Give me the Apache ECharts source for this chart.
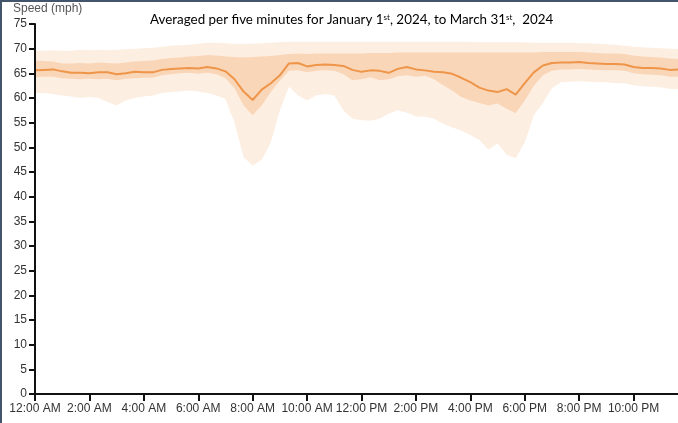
<!DOCTYPE html>
<html lang="en">

<head>
    <meta charset="UTF-8">
    <title>Speed</title>
    <script src="https://cdn.jsdelivr.net/npm/echarts@6/dist/echarts.min.js"></script>
    <style>
        html, body {
            margin: 0;
            padding: 0;
            background: #fff;
        }

        #chart {
            width: 678px;
            height: 423px;
        }
    </style>
</head>

<body>
    <div id="chart"></div>
    <script>
        // one reading every 20 minutes, from 12:00 AM to 12:00 AM next day
        var stepMinutes = 20;
        var tickLabels = ['12:00 AM', '2:00 AM', '4:00 AM', '6:00 AM', '8:00 AM', '10:00 AM',
            '12:00 PM', '2:00 PM', '4:00 PM', '6:00 PM', '8:00 PM', '10:00 PM'];

        // average speed (mph)
        var avgSpeed = [65.6, 65.7, 65.8, 65.4, 65.1, 65.1, 65.0, 65.2, 65.2, 64.8, 65.0, 65.3,
            65.2, 65.2, 65.7, 65.9, 66.0, 66.1, 66.0, 66.3, 66.0, 65.4, 63.8, 61.3,
            59.6, 61.7, 63.0, 64.6, 67.0, 67.1, 66.4, 66.7, 66.8, 66.7, 66.5, 65.7,
            65.3, 65.6, 65.5, 65.1, 65.9, 66.3, 65.8, 65.6, 65.3, 65.2, 64.9, 64.1,
            63.2, 62.1, 61.5, 61.2, 61.8, 60.7, 63.0, 65.2, 66.6, 67.1, 67.2, 67.2,
            67.3, 67.1, 67.0, 66.9, 66.9, 66.8, 66.3, 66.1, 66.1, 66.0, 65.7, 65.8, 65.8];

        // inner band (darker)
        var innerLow = [64.2, 64.3, 64.3, 64.0, 63.9, 63.8, 63.9, 63.8, 63.9, 63.6, 63.9, 64.0,
            64.1, 64.1, 64.6, 64.8, 65.0, 65.1, 64.9, 65.1, 64.8, 64.0, 62.0, 58.5,
            56.5, 58.5, 61.2, 63.5, 65.5, 65.6, 65.2, 65.5, 65.6, 65.5, 64.8, 63.6,
            63.8, 64.2, 63.6, 63.8, 64.4, 64.6, 64.3, 64.5, 63.8, 62.6, 61.5, 60.2,
            59.5, 59.0, 58.5, 58.9, 57.8, 56.9, 59.5, 62.5, 64.6, 65.5, 65.8, 65.8,
            65.9, 65.8, 65.7, 65.6, 65.6, 65.5, 65.0, 64.8, 64.7, 64.6, 64.3, 64.3, 64.4];
        var innerHigh = [67.6, 67.5, 67.4, 67.0, 67.0, 67.1, 67.0, 67.2, 67.1, 67.0, 67.2, 67.4,
            67.5, 67.6, 67.9, 68.1, 68.2, 68.4, 68.5, 68.7, 68.6, 68.4, 68.3, 68.2,
            68.3, 68.4, 68.5, 68.7, 68.9, 69.0, 68.9, 69.0, 69.0, 69.0, 69.0, 69.0,
            69.0, 69.1, 69.1, 69.1, 69.2, 69.2, 69.2, 69.2, 69.2, 69.2, 69.2, 69.2,
            69.2, 69.2, 69.2, 69.2, 69.2, 69.2, 69.2, 69.2, 69.3, 69.3, 69.3, 69.3,
            69.3, 69.2, 69.1, 69.0, 69.0, 68.9, 68.6, 68.4, 68.3, 68.2, 68.0, 67.9, 67.9];

        // outer band (lighter)
        var outerLow = [61.0, 61.0, 60.8, 60.5, 60.3, 60.0, 60.2, 60.0, 59.2, 58.5, 59.5, 60.0,
            60.3, 60.5, 61.0, 61.2, 61.3, 61.5, 61.3, 61.0, 60.5, 59.8, 55.0, 48.0,
            46.3, 47.5, 51.0, 57.5, 62.3, 60.5, 59.5, 60.5, 60.8, 60.5, 57.5, 55.8,
            55.5, 55.4, 55.8, 56.8, 57.5, 57.0, 56.3, 56.2, 55.8, 54.8, 54.0, 53.4,
            52.5, 51.5, 49.5, 50.8, 48.5, 47.8, 51.0, 56.5, 59.0, 62.0, 63.2, 63.3,
            63.4, 63.3, 63.2, 63.2, 63.0, 63.0, 62.6, 62.4, 62.3, 62.2, 61.8, 61.8, 61.8];
        var outerHigh = [69.6, 69.6, 69.7, 69.6, 69.6, 69.8, 69.7, 69.8, 69.7, 69.8, 69.9, 70.0,
            70.1, 70.2, 70.4, 70.6, 70.7, 70.8, 71.0, 71.2, 71.2, 71.1, 71.0, 71.0,
            71.0, 71.1, 71.2, 71.3, 71.4, 71.4, 71.4, 71.4, 71.4, 71.4, 71.4, 71.4,
            71.4, 71.4, 71.4, 71.4, 71.4, 71.4, 71.4, 71.4, 71.4, 71.4, 71.4, 71.4,
            71.4, 71.3, 71.3, 71.3, 71.3, 71.3, 71.3, 71.2, 71.2, 71.2, 71.2, 71.2,
            71.1, 71.1, 71.0, 70.9, 70.8, 70.6, 70.4, 70.3, 70.2, 70.1, 70.0, 69.9, 69.9];

        var times = avgSpeed.map(function (v, i) {
            var m = i * stepMinutes;
            return Math.floor(m / 60) + ':' + ('0' + (m % 60)).slice(-2);
        });
        var outerSpan = outerHigh.map(function (v, i) { return +(v - outerLow[i]).toFixed(2); });
        var innerSpan = innerHigh.map(function (v, i) { return +(v - innerLow[i]).toFixed(2); });

        var chart = echarts.init(document.getElementById('chart'));
        var axisColor = '#111';
        var labelStyle = { color: '#333', fontSize: 12, fontFamily: 'Liberation Sans, Arial, sans-serif' };

        var frame = [
            { id: 'frameTop', type: 'rect', left: 0, top: 0, shape: { width: 678, height: 2 }, style: { fill: '#44546a' }, z: 100 },
            { id: 'frameLeft', type: 'rect', left: 0, top: 0, shape: { width: 2, height: 423 }, style: { fill: '#44546a' }, z: 100 }
        ];

        chart.setOption({
            animation: false,
            title: [{
                left: 145,
                top: 8,
                text: 'Averaged per five minutes for January 1{sup|st}, 2024, to March 31{sup|st},  2024',
                textStyle: {
                    fontFamily: 'Lato, sans-serif',
                    fontSize: 13.4,
                    fontWeight: 'normal',
                    color: '#000',
                    rich: {
                        sup: { fontSize: 8, verticalAlign: 'top', padding: [0, 0, 6, 0], fontFamily: 'Lato, sans-serif', color: '#000' }
                    }
                }
            }, {
                left: 8,
                top: -2,
                text: 'Speed (mph)',
                textStyle: { fontFamily: 'Liberation Sans, Arial, sans-serif', fontSize: 12, fontWeight: 'normal', color: '#555' }
            }],
            graphic: frame,
            grid: { left: 35, right: -10, top: 24, bottom: 29, outerBoundsMode: 'none' },
            xAxis: {
                type: 'category',
                data: times,
                boundaryGap: false,
                axisLine: { lineStyle: { color: axisColor, width: 2 } },
                axisTick: { interval: 5, length: 7, lineStyle: { color: axisColor, width: 2 } },
                splitLine: { show: false },
                axisLabel: Object.assign({
                    interval: 5,
                    margin: 9,
                    formatter: function (v, i) { return tickLabels[i / 6] || ''; }
                }, labelStyle)
            },
            yAxis: {
                type: 'value',
                min: 0,
                max: 75,
                interval: 5,
                axisLine: { show: true, lineStyle: { color: axisColor, width: 2 } },
                axisTick: { show: true, length: 6, lineStyle: { color: axisColor, width: 2 } },
                splitLine: { show: false },
                axisLabel: Object.assign({ margin: 8 }, labelStyle)
            },
            series: [
                {
                    type: 'line', stack: 'outer', data: outerLow, symbol: 'none', silent: true,
                    lineStyle: { width: 0, opacity: 0 }
                },
                {
                    type: 'line', stack: 'outer', data: outerSpan, symbol: 'none', silent: true,
                    lineStyle: { width: 0, opacity: 0 },
                    areaStyle: { color: '#fdeee2', opacity: 1 }
                },
                {
                    type: 'line', stack: 'inner', data: innerLow, symbol: 'none', silent: true,
                    lineStyle: { width: 0, opacity: 0 }
                },
                {
                    type: 'line', stack: 'inner', data: innerSpan, symbol: 'none', silent: true,
                    lineStyle: { width: 0, opacity: 0 },
                    areaStyle: { color: '#fad6b8', opacity: 1 }
                },
                {
                    type: 'line', data: avgSpeed, symbol: 'none', silent: true,
                    lineStyle: { color: '#ee9549', width: 2 }
                }
            ]
        });

        // y axis line, placed from the chart's own scales
        var axisX = chart.convertToPixel({ xAxisIndex: 0 }, times[0]);
        var axisTop = chart.convertToPixel({ yAxisIndex: 0 }, 75);
        var axisBottom = chart.convertToPixel({ yAxisIndex: 0 }, 0);
        chart.setOption({
            graphic: frame.concat([{
                id: 'yAxisLine',
                type: 'line',
                shape: { x1: axisX, y1: axisTop, x2: axisX, y2: axisBottom + 1 },
                style: { stroke: axisColor, lineWidth: 2 },
                z: 200
            }])
        });
    </script>
</body>

</html>
